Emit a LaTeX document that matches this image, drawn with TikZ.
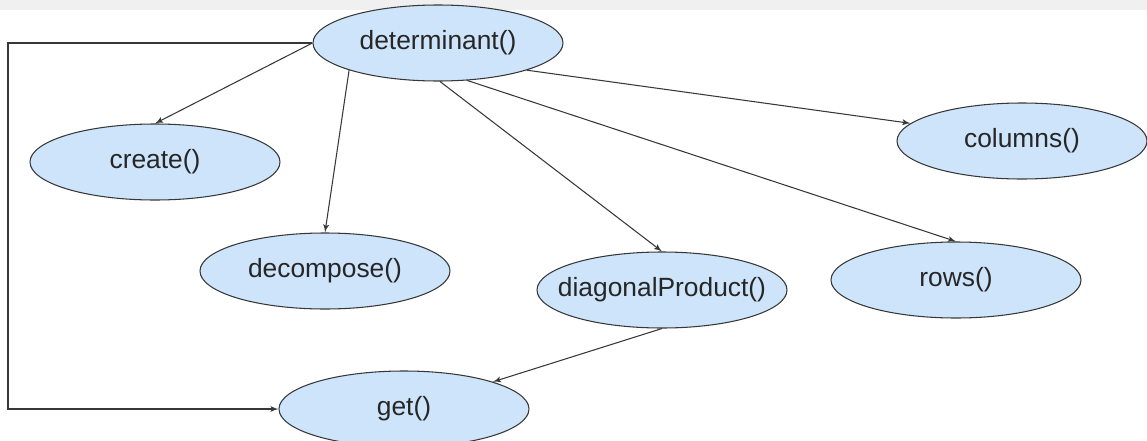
\documentclass[tikz,border=0pt]{standalone}
\usepackage{fontspec}
\setmainfont{Liberation Sans}
\usepackage{tikz}
\usetikzlibrary{arrows,shapes.geometric}
\definecolor{callblue}{RGB}{205,228,251}
\definecolor{linegray}{RGB}{55,55,55}

\begin{document}
\begin{tikzpicture}
    \tikzset{method/.style = {shape=ellipse,draw=linegray,fill=callblue,inner sep=0pt,line width=0.6pt,
        minimum width=5cm,minimum height=1.52cm,text=black!85,font=\fontsize{15}{17}\selectfont}}
    \tikzset{edge/.style = {->,> = latex',draw=linegray,line width=0.6pt}}

    \useasboundingbox (0,0) rectangle (22.94,-8.8);
    \fill[black!6] (0,0) rectangle (22.94,-0.2);

    \node[method] (det) at (8.76, -0.86) {determinant()};
    \node[method] (create) at (3.10, -3.24) {create()};
    \node[method] (decomp) at (6.50, -5.42) {decompose()};
    \node[method, inner xsep=-0.4cm] (diag) at (13.24, -5.80) {diagonalProduct()};
    \node[method] (rows) at (19.12, -5.60) {rows()};
    \node[method] (cols) at (20.44, -2.82) {columns()};
    \node[method] (get) at (8.08, -8.18) {get()};
    \coordinate (corner) at (0.16, -0.86);

    \draw[edge] (det.west) -- (create.north);
    \draw[edge] (det.197) -- (decomp.north);
    \draw[edge] (det.273) -- (diag.north);
    \draw[edge] (det.308) -- (rows.north);
    \draw[edge] (det.343) -- (cols.171);
    \draw[edge] (diag.south) -- (get.17);
    \draw[edge] (det.west) -- (corner) |- (get.west);

  \end{tikzpicture}
\end{document}
